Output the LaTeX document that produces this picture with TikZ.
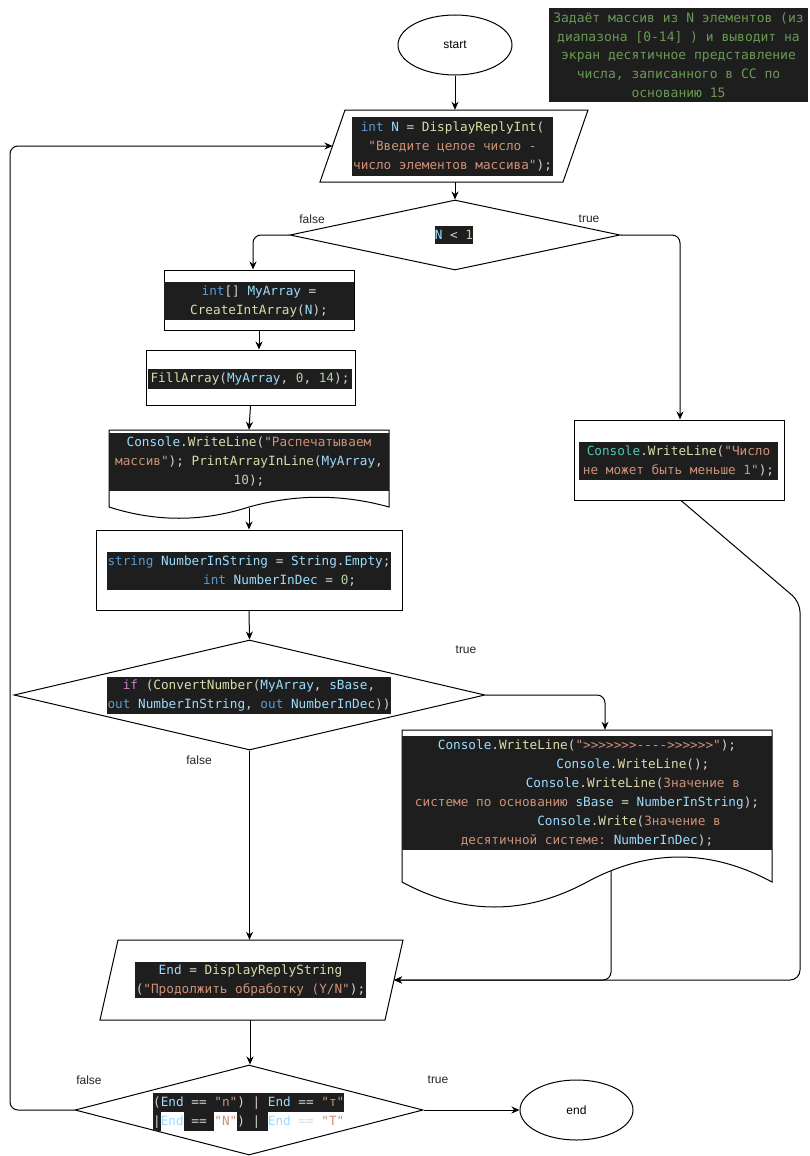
\documentclass[tikz,border=0pt]{standalone}
\usepackage{fontspec}
\setmainfont{Liberation Sans}
\setmonofont{DejaVu Sans Mono}
\usetikzlibrary{shapes.geometric,arrows.meta,calc}

% editor palette for the code snippets
\definecolor{codebg}{HTML}{1E1E1E}
\definecolor{ckw}{HTML}{569CD6}
\definecolor{cvar}{HTML}{9CDCFE}
\definecolor{cfn}{HTML}{DCDCAA}
\definecolor{cstr}{HTML}{CE9178}
\definecolor{cnum}{HTML}{B5CEA8}
\definecolor{cpun}{HTML}{D4D4D4}
\definecolor{ccom}{HTML}{6A9955}
\definecolor{ccls}{HTML}{4EC9B0}
\definecolor{cctl}{HTML}{C586C0}

\newcommand\Kw[1]{\textcolor{ckw}{#1}}
\newcommand\Vr[1]{\textcolor{cvar}{#1}}
\newcommand\Fn[1]{\textcolor{cfn}{#1}}
\newcommand\Str[1]{\textcolor{cstr}{#1}}
\newcommand\Num[1]{\textcolor{cnum}{#1}}
\newcommand\Cls[1]{\textcolor{ccls}{#1}}
\newcommand\Ctl[1]{\textcolor{cctl}{#1}}
% indentation by a number of monospace characters
\newcommand\Ind[1]{\hspace*{#1\fontcharwd\font`x}}
% dark highlight behind a piece of code
\newcommand\Dk[1]{{\setlength\fboxsep{0pt}\colorbox{codebg}{\rule[-5pt]{0pt}{19pt}#1}}}

\begin{document}
\begin{tikzpicture}[x=1pt,y=-1pt,
  outline/.style={draw=black, line width=1pt, inner sep=0pt},
  arr/.style={draw=black, line width=1pt, -{Stealth[length=8pt,width=7pt]}, rounded corners=8pt},
  code/.style={fill=codebg, text=cpun, inner sep=0pt, align=center,
               font=\ttfamily\fontsize{12.7}{19}\selectfont},
  lbl/.style={font=\fontsize{12}{14}\selectfont, text=black!85, inner sep=0pt}]

\fill[white] (0,0) rectangle (810,1156);
\useasboundingbox (0,0) rectangle (810,1156);

% ---- shapes ----
\node[outline, ellipse, minimum width=114, minimum height=60,
      font=\fontsize{12}{14}\selectfont] (start) at (455,45) {start};

\node[code, minimum width=259, minimum height=94, text=ccom,
      font=\ttfamily\fontsize{13}{18.6}\selectfont] (note) at (678.5,55)
  {Задаёт массив из N элементов (из\\
   диапазона [0-14] ) и выводит на\\
   экран десятичное представление\\
   числа, записанного в СС по\\
   основанию 15};

% input parallelogram: frame node plus slanted outline
\node[inner sep=0pt, minimum width=268, minimum height=72] (in1) at (454,146) {};
\draw[outline] (345,110) -- (588,110) -- (563,182) -- (320,182) -- cycle;
\coordinate (in1w) at (332.5,146);

\node[outline, diamond, minimum width=330, minimum height=70] (c1) at (455,235) {};

\node[outline, rectangle, minimum width=190, minimum height=60] (b1) at (259,300) {};
\node[outline, rectangle, minimum width=209, minimum height=55] (b2) at (250.5,377.5) {};

\node[inner sep=0pt, minimum width=280, minimum height=78] (d1) at (249,469) {};
\draw[outline] (109,430) -- (389,430) -- (389,507)
  .. controls (342.33,494) and (295.67,494) .. (249,507)
  .. controls (202.33,522) and (155.67,522) .. (109,507) -- cycle;

\node[outline, rectangle, minimum width=306, minimum height=80] (b3) at (249,570) {};

\node[outline, diamond, minimum width=471, minimum height=110] (c2) at (249.5,695) {};

\node[outline, rectangle, minimum width=210, minimum height=80] (cw) at (679,460) {};

\node[inner sep=0pt, minimum width=370, minimum height=152] (d2) at (587,806) {};
\draw[outline] (402,730) -- (772,730) -- (772,882)
  .. controls (710.33,848.67) and (648.67,848.67) .. (587,882)
  .. controls (525.33,915.33) and (463.67,915.33) .. (402,882) -- cycle;

\node[inner sep=0pt, minimum width=303, minimum height=80] (in2) at (251.5,980) {};
\draw[outline] (118,940) -- (403,940) -- (385,1020) -- (100,1020) -- cycle;
\coordinate (in2e) at (394,980);

\node[outline, diamond, minimum width=348, minimum height=90] (c3) at (249,1110) {};

\node[outline, ellipse, minimum width=113, minimum height=60,
      font=\fontsize{12}{14}\selectfont] (stop) at (576.5,1110) {end};

% ---- code texts ----
\node[code, minimum width=201, minimum height=59] (k1) at (452.5,146.5)
  {\Kw{int} \Vr{N} = \Fn{DisplayReplyInt}(\\
   \Str{"Введите целое число -}\\
   \Str{число элементов массива"});};

\node[code, minimum width=38, minimum height=18] (k2) at (454,235) {\Vr{N} < \Num{1}};

\node[code, minimum width=190, minimum height=38] (k3) at (259,301)
  {\Kw{int}[] \Vr{MyArray} =\\ \Fn{CreateIntArray}(\Vr{N});};

\node[code, minimum width=204, minimum height=20] (k4) at (250,379)
  {\Fn{FillArray}(\Vr{MyArray}, \Num{0}, \Num{14});};

\node[code, minimum width=280, minimum height=58] (k5) at (249,462)
  {\Vr{Console}.\Fn{WriteLine}(\Str{"Распечатываем}\\
   \Str{массив"}); \Fn{PrintArrayInLine}(\Vr{MyArray},\\
   \Num{10});};

\node[code, minimum width=284, minimum height=38] (k6) at (249,571)
  {\Kw{string} \Vr{NumberInString} = \Vr{String}.\Vr{Empty};\\
   \Ind{8}\Kw{int} \Vr{NumberInDec} = \Num{0};};

\node[code, minimum width=284, minimum height=37] (k7) at (249,695.5)
  {\Ctl{if} (\Fn{ConvertNumber}(\Vr{MyArray}, \Vr{sBase},\\
   \Kw{out} \Vr{NumberInString}, \Kw{out} \Vr{NumberInDec}))};

\node[code, minimum width=199, minimum height=38] (k8) at (678.5,461)
  {\Cls{Console}.\Fn{WriteLine}(\Str{"Число}\\
   \Str{не может быть меньше 1"});};

\node[code, minimum width=370, minimum height=114] (k9) at (587,793)
  {\Vr{Console}.\Fn{WriteLine}(\Str{">>>>>>>---->>>>>>"});\\
   \Ind{12}\Vr{Console}.\Fn{WriteLine}();\\
   \Ind{12}\Vr{Console}.\Fn{WriteLine}(\Str{Значение в}\\
   \Str{системе по основанию} \Vr{sBase} = \Vr{NumberInString});\\
   \Ind{11}\Vr{Console}.\Fn{Write}(\Str{Значение в}\\
   \Str{десятичной системе:} \Vr{NumberInDec});};

\node[code, minimum width=231, minimum height=36] (k10) at (250.5,980)
  {\Vr{End} = \Fn{DisplayReplyString}\\
   (\Str{"Продолжить обработку (Y/N"});};

\node[inner sep=0pt, align=left, text=cpun, anchor=west,
      font=\ttfamily\fontsize{12.7}{19}\selectfont] (k11) at (153,1111.5)
  {\Dk{(\Vr{End} == \Str{"n"}) | \Vr{End} == \Str{"т"}}\\
   \Dk{|}\Vr{End}\Dk{ == }\Str{"N"}\Dk{) | }\Vr{End} \textcolor{gray!30}{==} \Str{"Т"}};

% ---- branch labels ----
\node[lbl] (lf1) at (312,219) {false};
\node[lbl] (lt1) at (589,219) {true};
\node[lbl] (lt2) at (466,650) {true};
\node[lbl] (lf2) at (199,760) {false};
\node[lbl] (lf3) at (89,1080) {false};
\node[lbl] (lt3) at (438,1080) {true};

% ---- connectors ----
\coordinate (d1o) at (249,508);
\coordinate (d2o) at (611,871);
\coordinate (r1) at (800,602);
\coordinate (l1) at (10,146);

\draw[arr] (start.south) -- (start.south |- in1.north);
\draw[arr] ([xshift=1pt]in1.south) -- ([xshift=1pt]in1.south |- c1.north);
\draw[arr] (c1.west) -| ([xshift=-6pt]b1.north);
\draw[arr] (c1.east) -| ([xshift=1pt]cw.north);
\draw[arr] (b1.south) -- (b1.south |- b2.north);
\draw[arr] (b2.south) -- (d1.north);
\draw[arr] (d1o) -- (b3.north);
\draw[arr] (b3.south) -- (c2.north);
\draw[arr] (c2.east) -| ([xshift=18pt]d2.north);
\draw[arr] (c2.south) -- (c2.south |- in2.north);
\draw[arr, rounded corners=10pt] ([xshift=2pt]cw.south) -- (r1) |- (in2e);
\draw[arr] (d2o) |- (in2e);
\draw[arr] ([xshift=-1.5pt]in2.south) -- ([xshift=-1.5pt]in2.south |- c3.north);
\draw[arr] (c3.east) -- (stop.west);
\draw[arr] (c3.west) -| (l1) -- (in1w);

\end{tikzpicture}
\end{document}
